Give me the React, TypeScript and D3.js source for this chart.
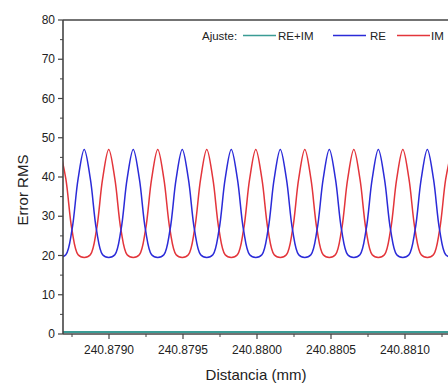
import React from "react";
import * as d3 from "d3";

const distancia: number[] = [
  240.878667, 240.8787084, 240.8787498, 240.8787912, 240.8788326, 240.878874, 240.8789154, 240.8789568,
  240.8789982, 240.8790396, 240.879081, 240.8791224, 240.8791638, 240.8792052, 240.8792466, 240.879288,
  240.8793294, 240.8793708, 240.8794122, 240.8794536, 240.879495, 240.8795364, 240.8795778, 240.8796192,
  240.8796606, 240.879702, 240.8797434, 240.8797848, 240.8798262, 240.8798676, 240.879909, 240.8799504,
  240.8799918, 240.8800332, 240.8800746, 240.880116, 240.8801574, 240.8801988, 240.8802402, 240.8802816,
  240.880323, 240.8803644, 240.8804058, 240.8804472, 240.8804886, 240.88053, 240.8805714, 240.8806128,
  240.8806542, 240.8806956, 240.880737, 240.8807784, 240.8808198, 240.8808612, 240.8809026, 240.880944,
  240.8809854, 240.8810268, 240.8810682, 240.8811096, 240.881151, 240.8811924, 240.8812338, 240.8812752,
  240.8813166,
];

const errorRE: number[] = [
  19.5, 20.2, 26.5, 39.5, 47, 39.5, 26.5, 20.2,
  19.5, 20.2, 26.5, 39.5, 47, 39.5, 26.5, 20.2,
  19.5, 20.2, 26.5, 39.5, 47, 39.5, 26.5, 20.2,
  19.5, 20.2, 26.5, 39.5, 47, 39.5, 26.5, 20.2,
  19.5, 20.2, 26.5, 39.5, 47, 39.5, 26.5, 20.2,
  19.5, 20.2, 26.5, 39.5, 47, 39.5, 26.5, 20.2,
  19.5, 20.2, 26.5, 39.5, 47, 39.5, 26.5, 20.2,
  19.5, 20.2, 26.5, 39.5, 47, 39.5, 26.5, 20.2,
  19.5,
];

const errorIM: number[] = [
  47, 39.5, 26.5, 20.2, 19.5, 20.2, 26.5, 39.5,
  47, 39.5, 26.5, 20.2, 19.5, 20.2, 26.5, 39.5,
  47, 39.5, 26.5, 20.2, 19.5, 20.2, 26.5, 39.5,
  47, 39.5, 26.5, 20.2, 19.5, 20.2, 26.5, 39.5,
  47, 39.5, 26.5, 20.2, 19.5, 20.2, 26.5, 39.5,
  47, 39.5, 26.5, 20.2, 19.5, 20.2, 26.5, 39.5,
  47, 39.5, 26.5, 20.2, 19.5, 20.2, 26.5, 39.5,
  47, 39.5, 26.5, 20.2, 19.5, 20.2, 26.5, 39.5,
  47,
];

const distanciaREIM: number[] = [240.878667, 240.8795, 240.8803, 240.8811, 240.8813166];
const errorREIM: number[] = [0.5, 0.5, 0.5, 0.5, 0.5];

const xTicks: number[] = [240.879, 240.8795, 240.88, 240.8805, 240.881];
const xTickLabels: string[] = ["240.8790", "240.8795", "240.8800", "240.8805", "240.8810"];
const xMinorTicks: number[] = [240.87875, 240.87925, 240.87975, 240.88025, 240.88075, 240.88125];
const yTicks: number[] = [0, 10, 20, 30, 40, 50, 60, 70, 80];
const yMinorTicks: number[] = [5, 15, 25, 35, 45, 55, 65, 75];

const legendItems = [
  { label: "RE+IM", color: "#3a9c95" },
  { label: "RE", color: "#2b2bd8" },
  { label: "IM", color: "#e3353b" },
];

const W = 448;
const H = 387;
const left = 63;
const top = 20;
const bottom = 334;

export default function App() {
  const x = d3.scaleLinear().domain([240.879, 240.881]).range([109, 405]);
  const y = d3.scaleLinear().domain([0, 80]).range([bottom, top]);

  const line = d3
    .line<[number, number]>()
    .x((d) => x(d[0]))
    .y((d) => y(d[1]))
    .curve(d3.curveCatmullRom.alpha(0.5));

  const re = line(distancia.map((d, i) => [d, errorRE[i]]));
  const im = line(distancia.map((d, i) => [d, errorIM[i]]));
  const reim = d3
    .line<[number, number]>()
    .x((d) => x(d[0]))
    .y((d) => y(d[1]))(distanciaREIM.map((d, i) => [d, errorREIM[i]]));

  const axisColor = "#444";
  const font = "'Liberation Sans', Arial, sans-serif";

  const legendX = [243, 333, 397];
  const legendTextX = [278, 370, 431];

  return (
    <svg
      width={W}
      height={H}
      style={{ position: "absolute", left: 0, top: 0, background: "#fff" }}
      fontFamily={font}
    >
      <defs>
        <clipPath id="plot">
          <rect x={left} y={top} width={W - left} height={bottom - top} />
        </clipPath>
      </defs>
      <rect x={0} y={0} width={W} height={H} fill="#fff" />

      <g clipPath="url(#plot)">
        <path d={reim || ""} fill="none" stroke={legendItems[0].color} strokeWidth={2} />
        <path d={im || ""} fill="none" stroke={legendItems[2].color} strokeWidth={1.5} />
        <path d={re || ""} fill="none" stroke={legendItems[1].color} strokeWidth={1.5} />
      </g>

      {/* axes frame */}
      <line x1={left} x2={left} y1={top} y2={bottom} stroke={axisColor} strokeWidth={1.6} />
      <line x1={left} x2={W} y1={bottom} y2={bottom} stroke={axisColor} strokeWidth={1.6} />
      <line x1={left} x2={W} y1={top} y2={top} stroke={axisColor} strokeWidth={1.6} />

      {/* y ticks */}
      {yTicks.map((t) => (
        <g key={"y" + t}>
          <line x1={left - 5} x2={left} y1={y(t)} y2={y(t)} stroke={axisColor} strokeWidth={1.2} />
          <text x={left - 8} y={y(t) + 4} textAnchor="end" fontSize={12} fill="#222">
            {t}
          </text>
        </g>
      ))}
      {yMinorTicks.map((t) => (
        <line key={"ym" + t} x1={left - 3} x2={left} y1={y(t)} y2={y(t)} stroke={axisColor} strokeWidth={1} />
      ))}

      {/* x ticks */}
      {xTicks.map((t, i) => (
        <g key={"x" + t}>
          <line x1={x(t)} x2={x(t)} y1={bottom} y2={bottom + 5} stroke={axisColor} strokeWidth={1.2} />
          <text x={x(t)} y={bottom + 20} textAnchor="middle" fontSize={12} fill="#222">
            {xTickLabels[i]}
          </text>
        </g>
      ))}
      {xMinorTicks.map((t) => (
        <line key={"xm" + t} x1={x(t)} x2={x(t)} y1={bottom} y2={bottom + 3} stroke={axisColor} strokeWidth={1} />
      ))}

      {/* axis titles */}
      <text x={256} y={380} textAnchor="middle" fontSize={15} fill="#222">
        Distancia (mm)
      </text>
      <text
        transform={`translate(28, 190) rotate(-90)`}
        textAnchor="middle"
        fontSize={15}
        fill="#222"
      >
        Error RMS
      </text>

      {/* legend */}
      <text x={202} y={39.5} fontSize={11.5} fill="#222">
        Ajuste:
      </text>
      {legendItems.map((it, i) => (
        <g key={it.label}>
          <line x1={legendX[i]} x2={legendX[i] + 33} y1={35.5} y2={35.5} stroke={it.color} strokeWidth={1.5} />
          <text x={legendTextX[i]} y={39.5} fontSize={11.5} fill="#222">
            {it.label}
          </text>
        </g>
      ))}
    </svg>
  );
}
